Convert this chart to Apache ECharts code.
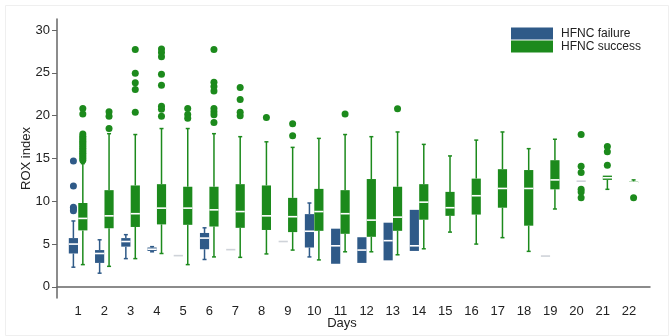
<!DOCTYPE html>
<html>
<head>
<meta charset="utf-8">
<script src="https://cdn.jsdelivr.net/npm/echarts@6/dist/echarts.min.js"></script>
<style>
  html, body { margin: 0; padding: 0; background: #fff; }
  #chart { width: 669px; height: 336px; }
</style>
</head>
<body>
<div id="chart"></div>
<script>
var days = ['1', '2', '3', '4', '5', '6', '7', '8', '9', '10', '11',
  '12', '13', '14', '15', '16', '17', '18', '19', '20', '21', '22'];
var yTicks = [0, 5, 10, 15, 20, 25, 30];

// day, min, q1, median, q3, max
var failureBoxes = [
  ['1', 2.3, 3.9, 5.0, 5.7, 7.7],
  ['2', 1.6, 2.8, 3.9, 4.3, 5.5],
  ['3', 3.3, 4.7, 5.3, 5.7, 6.1],
  ['4', 4.1, 4.2, 4.4, 4.6, 4.7],
  ['5', 3.65, 3.65, 3.65, 3.65, 3.65],
  ['6', 3.2, 4.4, 5.7, 6.3, 6.9],
  ['7', 4.35, 4.35, 4.35, 4.35, 4.35],
  ['9', 5.3, 5.3, 5.3, 5.3, 5.3],
  ['10', 3.5, 4.6, 6.5, 8.5, 9.8],
  ['11', 2.7, 2.7, 4.8, 6.8, 6.8],
  ['12', 2.8, 2.8, 4.3, 5.8, 5.8],
  ['13', 3.1, 3.1, 5.4, 7.5, 7.5],
  ['14', 4.2, 4.2, 4.8, 9.0, 9.0],
  ['19', 3.6, 3.6, 3.6, 3.6, 3.6]
];
var failureOutliers = [
  ['1', 14.7], ['1', 11.8], ['1', 9.3], ['1', 9.1], ['1', 8.9]
];

var successBoxes = [
  ['1', 2.6, 6.6, 8.0, 9.8, 14.4],
  ['2', 2.4, 6.85, 8.3, 11.3, 17.9],
  ['3', 3.3, 7.0, 8.55, 11.85, 17.8],
  ['4', 3.9, 7.3, 9.2, 12.0, 18.5],
  ['5', 2.6, 7.25, 9.2, 11.7, 18.5],
  ['6', 3.5, 7.05, 9.0, 11.7, 17.9],
  ['7', 3.45, 6.9, 8.8, 12.0, 17.55],
  ['8', 3.85, 6.65, 8.3, 11.85, 16.95],
  ['9', 4.3, 6.4, 8.2, 10.4, 16.3],
  ['10', 3.15, 6.55, 8.8, 11.45, 17.35],
  ['11', 4.1, 6.2, 8.55, 11.3, 17.8],
  ['12', 4.1, 5.85, 7.8, 12.6, 17.55],
  ['13', 3.75, 6.55, 8.15, 11.7, 18.1],
  ['14', 4.45, 7.85, 9.9, 12.0, 16.65],
  ['15', 6.4, 8.3, 9.25, 11.1, 15.3],
  ['16', 5.0, 8.45, 10.65, 12.65, 17.15],
  ['17', 5.75, 9.25, 11.5, 13.75, 18.1],
  ['18', 4.15, 7.15, 11.5, 13.65, 16.15],
  ['19', 9.1, 11.4, 12.5, 14.8, 17.25],
  ['20', 12.35, 12.35, 12.35, 12.35, 12.35],
  ['21', 11.4, 12.5, 12.75, 13.0, 13.0],
  ['22', 12.15, 12.15, 12.2, 12.3, 12.5]
];
var successOutliers = [
  ['1', 20.85], ['1', 20.2], ['1', 17.85], ['1', 17.6], ['1', 17.4], ['1', 17.2],
  ['1', 17.0], ['1', 16.8], ['1', 16.6], ['1', 16.4], ['1', 16.2], ['1', 16.0],
  ['1', 15.8], ['1', 15.6], ['1', 15.4], ['1', 15.2], ['1', 15.0], ['1', 14.8],
  ['2', 20.45], ['2', 19.95], ['2', 18.5],
  ['3', 27.75], ['3', 24.95], ['3', 23.85], ['3', 23.05], ['3', 20.4],
  ['4', 27.8], ['4', 27.4], ['4', 26.9], ['4', 24.85], ['4', 23.55], ['4', 21.1], ['4', 20.75], ['4', 19.95],
  ['5', 20.85], ['5', 20.15], ['5', 19.7],
  ['6', 27.75], ['6', 23.9], ['6', 23.4], ['6', 22.9], ['6', 20.85], ['6', 20.45], ['6', 20.1], ['6', 19.2],
  ['7', 23.3], ['7', 21.9], ['7', 20.4], ['7', 20.0],
  ['8', 19.8],
  ['9', 19.05], ['9', 17.65],
  ['11', 20.2],
  ['13', 20.8],
  ['20', 17.8], ['20', 14.1], ['20', 13.35], ['20', 11.4], ['20', 11.1], ['20', 10.4],
  ['21', 16.4], ['21', 15.8], ['21', 14.2],
  ['22', 10.4]
];

var BLUE = '#2f5a88';
var GREEN = '#1c8a1c';

function boxRenderer(color, side) {
  return function (params, api) {
    var cat = api.value(0);
    var bw = api.size([1, 0])[0];
    var half = bw * 0.175;
    var cx = api.coord([cat, 0])[0] + side * bw * 0.18;
    var vMin = api.value(1), vQ1 = api.value(2), vMed = api.value(3), vQ3 = api.value(4), vMax = api.value(5);
    var yMin = api.coord([cat, vMin])[1];
    var yQ1 = api.coord([cat, vQ1])[1];
    var yMed = api.coord([cat, vMed])[1];
    var yQ3 = api.coord([cat, vQ3])[1];
    var yMax = api.coord([cat, vMax])[1];
    var line = { stroke: color, lineWidth: 1.5 };
    var children = [];
    if (vMax > vQ3) {
      children.push({ type: 'line', shape: { x1: cx, y1: yQ3, x2: cx, y2: yMax }, style: line });
      children.push({ type: 'line', shape: { x1: cx - 2, y1: yMax, x2: cx + 2, y2: yMax }, style: line });
    }
    if (vMin < vQ1) {
      children.push({ type: 'line', shape: { x1: cx, y1: yQ1, x2: cx, y2: yMin }, style: line });
      children.push({ type: 'line', shape: { x1: cx - 2, y1: yMin, x2: cx + 2, y2: yMin }, style: line });
    }
    var flat = vQ3 - vQ1 < 0.01;
    if (!flat) {
      children.push({ type: 'rect', shape: { x: cx - half, y: yQ3, width: half * 2, height: yQ1 - yQ3 }, style: { fill: color } });
    }
    children.push({
      type: 'line',
      shape: { x1: cx - half, y1: yMed, x2: cx + half, y2: yMed },
      style: { stroke: flat ? '#cfd3d9' : '#ffffff', lineWidth: 1.6 }
    });
    return { type: 'group', children: children };
  };
}

var chart = echarts.init(document.getElementById('chart'));
chart.setOption({
  animation: false,
  backgroundColor: '#fff',
  textStyle: { fontFamily: 'Liberation Sans, Arial, sans-serif' },
  graphic: [{
    type: 'rect', left: 3, top: 3, silent: true,
    shape: { width: 663, height: 330 },
    style: { fill: 'none', stroke: '#efefef', lineWidth: 1 }
  }],
  legend: {
    orient: 'vertical',
    left: 511,
    top: 27,
    padding: 0,
    itemGap: 0,
    itemWidth: 42,
    itemHeight: 12,
    textStyle: { fontSize: 12, color: '#222', lineHeight: 13, padding: [0, 0, 0, 3] },
    data: [
      { name: 'HFNC failure', icon: 'rect', itemStyle: { color: BLUE } },
      { name: 'HFNC success', icon: 'rect', itemStyle: { color: GREEN } }
    ]
  },
  grid: [
    { left: 65, right: 27, top: 19, bottom: 38 },
    { left: 57, right: 19, top: 19, bottom: 38 }
  ],
  xAxis: [
    {
      type: 'category', gridIndex: 0, data: days,
      axisLine: { show: false }, axisTick: { show: false },
      axisLabel: { fontSize: 13, color: '#222', margin: 7 }
    },
    {
      type: 'value', gridIndex: 1, min: 0, max: 1,
      axisLine: { show: true, lineStyle: { color: '#666', width: 1.5 } },
      axisTick: { show: false }, axisLabel: { show: false }, splitLine: { show: false },
      name: 'Days', nameLocation: 'middle', nameGap: 19,
      nameTextStyle: { fontSize: 13, color: '#222', padding: [0, 23, 0, 0] }
    }
  ],
  yAxis: [
    {
      type: 'value', gridIndex: 0, min: -1.3, max: 31.3,
      axisLine: { show: false }, axisTick: { show: false },
      axisLabel: { show: false }, splitLine: { show: false }
    },
    {
      type: 'value', gridIndex: 1, min: -1.3, max: 31.3,
      axisLine: { show: true, lineStyle: { color: '#666', width: 1.5 } },
      axisTick: { show: true, length: 5, customValues: yTicks, lineStyle: { color: '#666' } },
      axisLabel: { fontSize: 13, color: '#222', margin: 7, customValues: yTicks },
      splitLine: { show: false },
      name: 'ROX index', nameLocation: 'middle', nameGap: 24, nameMoveOverlap: false,
      nameTextStyle: { fontSize: 13, color: '#222' }
    }
  ],
  series: [
    {
      name: 'HFNC failure', type: 'custom', xAxisIndex: 0, yAxisIndex: 0,
      itemStyle: { color: BLUE },
      renderItem: boxRenderer(BLUE, -1),
      encode: { x: 0, y: [1, 2, 3, 4, 5] },
      data: failureBoxes
    },
    {
      name: 'HFNC success', type: 'custom', xAxisIndex: 0, yAxisIndex: 0,
      itemStyle: { color: GREEN },
      renderItem: boxRenderer(GREEN, 1),
      encode: { x: 0, y: [1, 2, 3, 4, 5] },
      data: successBoxes
    },
    {
      name: 'HFNC failure', type: 'scatter', xAxisIndex: 0, yAxisIndex: 0,
      symbolSize: 7, symbolOffset: [-4.7, 0],
      itemStyle: { color: BLUE, opacity: 1 },
      data: failureOutliers
    },
    {
      name: 'HFNC success', type: 'scatter', xAxisIndex: 0, yAxisIndex: 0,
      symbolSize: 7, symbolOffset: [4.7, 0],
      itemStyle: { color: GREEN, opacity: 1 },
      data: successOutliers
    }
  ]
});
</script>
</body>
</html>
